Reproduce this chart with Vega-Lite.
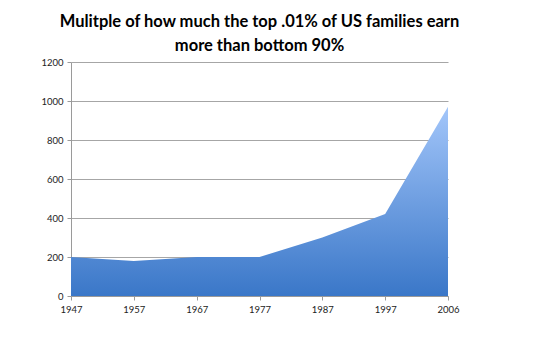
{
  "$schema": "https://vega.github.io/schema/vega-lite/v6.json",
  "width": 377,
  "height": 234,
  "autosize": {"type": "none"},
  "padding": {"left": 71, "top": 62, "right": 89, "bottom": 62},
  "background": "white",
  "title": {
    "text": ["Mulitple of how much the top .01% of US families earn", "more than bottom 90%"],
    "font": "Lato",
    "fontSize": 16.5,
    "fontWeight": "bold",
    "color": "black",
    "anchor": "middle",
    "frame": "group",
    "lineHeight": 24,
    "offset": 3
  },
  "data": {
    "values": [
      {"year": "1947", "multiple": 200},
      {"year": "1957", "multiple": 180},
      {"year": "1967", "multiple": 200},
      {"year": "1977", "multiple": 200},
      {"year": "1987", "multiple": 300},
      {"year": "1997", "multiple": 420},
      {"year": "2006", "multiple": 970}
    ]
  },
  "mark": {
    "type": "area",
    "line": false,
    "color": {
      "gradient": "linear",
      "x1": 0, "y1": 1, "x2": 0, "y2": 0,
      "stops": [
        {"offset": 0, "color": "#3a77c8"},
        {"offset": 1, "color": "#a3c6fa"}
      ]
    }
  },
  "encoding": {
    "x": {
      "field": "year",
      "type": "ordinal",
      "scale": {"type": "point", "padding": 0},
      "axis": {
        "title": null,
        "labelAngle": 0,
        "grid": false,
        "tickSize": 4,
        "labelPadding": 4
      }
    },
    "y": {
      "field": "multiple",
      "type": "quantitative",
      "scale": {"domain": [0, 1200]},
      "axis": {
        "title": null,
        "values": [0, 200, 400, 600, 800, 1000, 1200],
        "format": "d",
        "grid": true,
        "tickSize": 4,
        "labelPadding": 4
      }
    }
  },
  "config": {
    "view": {"stroke": null},
    "axis": {
      "labelFont": "Lato",
      "labelFontSize": 9.5,
      "labelColor": "#222222",
      "domainColor": "#9a9a9a",
      "tickColor": "#9a9a9a",
      "gridColor": "#a6a6a6",
      "gridWidth": 1,
      "domainWidth": 1
    }
  }
}
